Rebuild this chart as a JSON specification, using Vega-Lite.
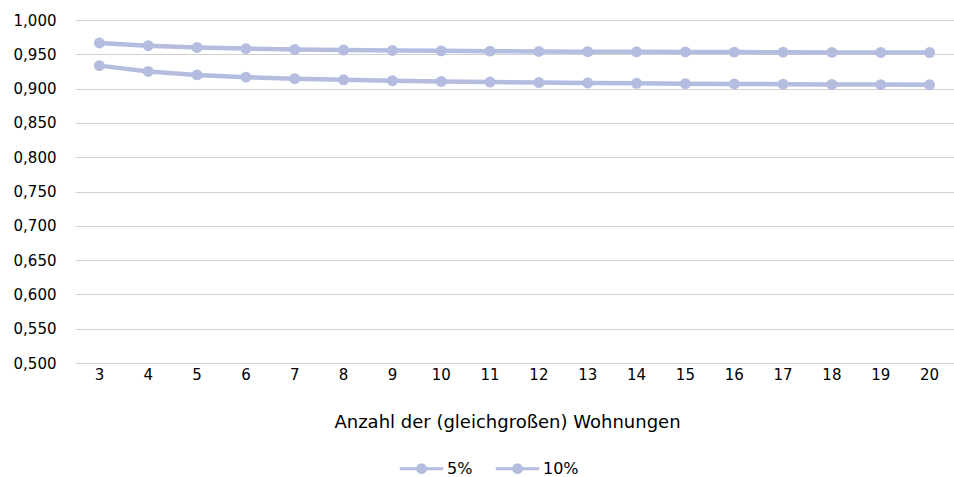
{
  "$schema": "https://vega.github.io/schema/vega-lite/v6.json",
  "width": 879,
  "height": 343,
  "autosize": "none",
  "padding": {"left": 75, "top": 20, "right": 0, "bottom": 114},
  "config": {
    "locale": {"number": {"decimal": ",", "thousands": ".", "grouping": [3], "currency": ["", " €"]}},
    "view": {"stroke": null},
    "font": "DejaVu Sans"
  },
  "data": {
    "values": [
      {"n": 3, "serie": "5%", "wert": 0.9665},
      {"n": 4, "serie": "5%", "wert": 0.9625},
      {"n": 5, "serie": "5%", "wert": 0.9600},
      {"n": 6, "serie": "5%", "wert": 0.9583},
      {"n": 7, "serie": "5%", "wert": 0.9570},
      {"n": 8, "serie": "5%", "wert": 0.9562},
      {"n": 9, "serie": "5%", "wert": 0.9556},
      {"n": 10, "serie": "5%", "wert": 0.9550},
      {"n": 11, "serie": "5%", "wert": 0.9546},
      {"n": 12, "serie": "5%", "wert": 0.9542},
      {"n": 13, "serie": "5%", "wert": 0.9538},
      {"n": 14, "serie": "5%", "wert": 0.9536},
      {"n": 15, "serie": "5%", "wert": 0.9534},
      {"n": 16, "serie": "5%", "wert": 0.9532},
      {"n": 17, "serie": "5%", "wert": 0.9530},
      {"n": 18, "serie": "5%", "wert": 0.9528},
      {"n": 19, "serie": "5%", "wert": 0.9527},
      {"n": 20, "serie": "5%", "wert": 0.9526},
      {"n": 3, "serie": "10%", "wert": 0.9335},
      {"n": 4, "serie": "10%", "wert": 0.9250},
      {"n": 5, "serie": "10%", "wert": 0.9200},
      {"n": 6, "serie": "10%", "wert": 0.9167},
      {"n": 7, "serie": "10%", "wert": 0.9145},
      {"n": 8, "serie": "10%", "wert": 0.9128},
      {"n": 9, "serie": "10%", "wert": 0.9115},
      {"n": 10, "serie": "10%", "wert": 0.9104},
      {"n": 11, "serie": "10%", "wert": 0.9095},
      {"n": 12, "serie": "10%", "wert": 0.9088},
      {"n": 13, "serie": "10%", "wert": 0.9082},
      {"n": 14, "serie": "10%", "wert": 0.9077},
      {"n": 15, "serie": "10%", "wert": 0.9072},
      {"n": 16, "serie": "10%", "wert": 0.9068},
      {"n": 17, "serie": "10%", "wert": 0.9064},
      {"n": 18, "serie": "10%", "wert": 0.9061},
      {"n": 19, "serie": "10%", "wert": 0.9058},
      {"n": 20, "serie": "10%", "wert": 0.9055}
    ]
  },
  "mark": {"type": "line", "strokeWidth": 4.5, "point": {"size": 120, "filled": true, "opacity": 1}},
  "encoding": {
    "x": {
      "field": "n",
      "type": "ordinal",
      "scale": {"type": "band", "paddingInner": 0, "paddingOuter": 0},
      "axis": {
        "title": "Anzahl der (gleichgroßen) Wohnungen",
        "labelAngle": 0,
        "domain": false,
        "ticks": false,
        "labelFontSize": 15,
        "labelColor": "#000000",
        "labelPadding": 4,
        "titleFontSize": 18,
        "titleFontWeight": "normal",
        "titleColor": "#000000",
        "titlePadding": 31,
        "titleX": 432
      }
    },
    "y": {
      "field": "wert",
      "type": "quantitative",
      "scale": {"domain": [0.5, 1.0], "zero": false, "nice": false},
      "axis": {
        "title": null,
        "format": ".3f",
        "values": [0.5, 0.55, 0.6, 0.65, 0.7, 0.75, 0.8, 0.85, 0.9, 0.95, 1.0],
        "domain": false,
        "ticks": false,
        "grid": true,
        "gridColor": "#d0d0d0",
        "gridWidth": 1,
        "labelFontSize": 15,
        "labelColor": "#000000",
        "labelPadding": 19
      }
    },
    "color": {
      "field": "serie",
      "type": "nominal",
      "scale": {"domain": ["5%", "10%"], "range": ["#b4bde0", "#b4bde0"]},
      "legend": {
        "title": null,
        "orient": "none",
        "legendX": 323,
        "legendY": 425,
        "direction": "horizontal",
        "labelFontSize": 16,
        "labelColor": "#000000",
        "symbolType": "M-1,0H1M0.18,0A0.18,0.18,0,1,1,-0.18,0A0.18,0.18,0,1,1,0.18,0Z",
        "symbolSize": 1900,
        "symbolStrokeWidth": 3,
        "symbolFillColor": "#b4bde0",
        "symbolOpacity": 1,
        "labelOffset": 2,
        "columnPadding": 16
      }
    }
  }
}
